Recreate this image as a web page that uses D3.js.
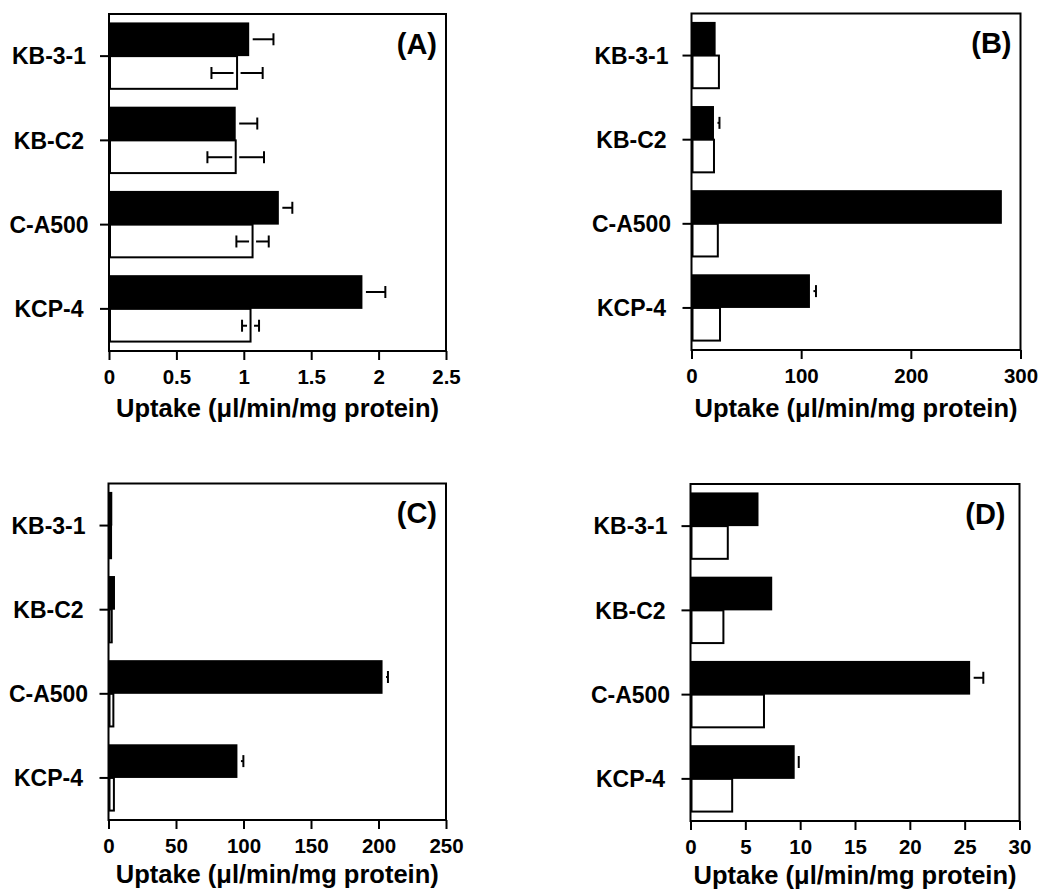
<!DOCTYPE html>
<html>
<head>
<meta charset="utf-8">
<script src="https://cdn.jsdelivr.net/npm/d3@7"></script>
<style>
    body { margin: 0; background: #fff; }
    text { font-family: "Liberation Sans", Arial, Helvetica, sans-serif; font-weight: bold; fill: #000; }
</style>
</head>
<body>
<div class="figure"></div>
<script>

// cell lines (same in every panel)
const cellLines = ["KB-3-1", "KB-C2", "C-A500", "KCP-4"];

// panel A
const blackA = [1.04, 0.94, 1.26, 1.88];
const blackErrA = [0.18, 0.16, 0.10, 0.17];
const whiteA = [0.95, 0.94, 1.065, 1.05];
const whiteErrA = [0.19, 0.21, 0.12, 0.063];

// panel B
const blackB = [22, 20.5, 283, 108];
const blackErrB = [0, 5, 0, 5.5];
const whiteB = [25, 20.5, 24, 26];
const whiteErrB = [0, 0, 0, 0];

// panel C
const blackC = [2.8, 4.8, 203, 95.5];
const blackErrC = [0, 0, 4, 4.4];
const whiteC = [1.9, 2.4, 3.6, 4.0];
const whiteErrC = [0, 0, 0, 0];

// panel D
const blackD = [6.2, 7.45, 25.5, 9.5];
const blackErrD = [0, 0, 1.2, 0.37];
const whiteD = [3.4, 3.0, 6.7, 3.8];
const whiteErrD = [0, 0, 0, 0];

// x axis domains and tick counts
const domains = {A: [0, 2.5], B: [0, 300], C: [0, 250], D: [0, 30]};
const tickCounts = {A: 6, B: 4, C: 5, D: 6};

const axisTitle = "Uptake (\u03bcl/min/mg protein)";


class UptakeChart {

    constructor(svg, panel) {
        this.svg = svg;
        this.panel = panel;
        this.displayData = [];

        this.initVis();
    }

    initVis() {
        let vis = this;
        let p = vis.panel;

        vis.g = vis.svg.append("g");

        vis.x = d3.scaleLinear()
            .domain(domains[p.id])
            .range([p.x0, p.x1]);

        vis.y = d3.scaleBand()
            .domain(cellLines)
            .range([p.yTop, p.yBottom])
            .paddingInner(0.2)
            .paddingOuter(0.1);

        vis.wrangleData();
    }

    wrangleData() {
        let vis = this;
        let p = vis.panel;

        vis.displayData = cellLines.map(function (c, i) {
            return {
                cell: c,
                black: p.black[i],
                blackErr: p.blackErr[i],
                white: p.white[i],
                whiteErr: p.whiteErr[i]
            };
        });

        vis.updateVis();
    }

    updateVis() {
        let vis = this;
        let p = vis.panel;
        let half = vis.y.bandwidth() / 2;
        let gap = 3.5;   // little space between bar end and error line
        let cap = 6;

        // black bars (top half of each band)
        vis.g.selectAll(".bar-black")
            .data(vis.displayData)
            .enter()
            .append("rect")
            .attr("class", "bar-black")
            .attr("x", vis.x(0))
            .attr("y", d => vis.y(d.cell))
            .attr("width", d => vis.x(d.black) - vis.x(0))
            .attr("height", half)
            .style("fill", "#000");

        // white bars (bottom half)
        vis.g.selectAll(".bar-white")
            .data(vis.displayData)
            .enter()
            .append("rect")
            .attr("class", "bar-white")
            .attr("x", vis.x(0) + 1)
            .attr("y", d => vis.y(d.cell) + half)
            .attr("width", d => vis.x(d.white) - vis.x(0) - 1)
            .attr("height", half - 1)
            .style("fill", "#fff")
            .style("stroke", "#000")
            .style("stroke-width", 2);

        // error bars
        let errs = [];
        vis.displayData.forEach(function (d) {
            let yb = vis.y(d.cell) + half / 2;
            let yw = vis.y(d.cell) + half * 1.5;
            if (d.blackErr > 0) {
                errs.push({from: vis.x(d.black) + gap, to: vis.x(d.black + d.blackErr), y: yb});
            }
            if (d.whiteErr > 0) {
                errs.push({from: vis.x(d.white) + gap, to: vis.x(d.white + d.whiteErr), y: yw});
                errs.push({from: vis.x(d.white) - gap, to: vis.x(d.white - d.whiteErr), y: yw});
            }
        });

        let eb = vis.g.selectAll(".err")
            .data(errs)
            .enter()
            .append("g")
            .attr("class", "err")
            .style("stroke", "#000")
            .style("stroke-width", 2);

        eb.append("line")
            .attr("x1", d => d.from)
            .attr("x2", d => d.to)
            .attr("y1", d => d.y)
            .attr("y2", d => d.y);

        eb.append("line")
            .attr("x1", d => d.to)
            .attr("x2", d => d.to)
            .attr("y1", d => d.y - cap)
            .attr("y2", d => d.y + cap);

        // frame
        vis.g.append("rect")
            .attr("x", p.x0)
            .attr("y", p.yTop)
            .attr("width", p.x1 - p.x0)
            .attr("height", p.yBottom - p.yTop)
            .style("fill", "none")
            .style("stroke", "#000")
            .style("stroke-width", 2);

        // y axis
        let yAxis = vis.g.append("g")
            .attr("transform", "translate(" + p.x0 + ",0)")
            .call(d3.axisLeft(vis.y).tickSize(9));
        yAxis.select(".domain").remove();
        yAxis.selectAll("line").style("stroke-width", 2);
        yAxis.selectAll("text")
            .attr("x", -60)
            .attr("dy", "0.36em")
            .attr("text-anchor", "middle")
            .style("font-size", "23px");

        // x axis
        let xAxis = vis.g.append("g")
            .attr("transform", "translate(0," + p.yBottom + ")")
            .call(d3.axisBottom(vis.x).ticks(tickCounts[p.id]).tickSize(9).tickFormat(d3.format("")));
        xAxis.select(".domain").remove();
        xAxis.selectAll("line").style("stroke-width", 2);
        xAxis.selectAll("text")
            .attr("y", 33)
            .attr("dy", null)
            .style("font-size", "20.5px");

        // axis title
        vis.g.append("text")
            .attr("x", (p.x0 + p.x1) / 2)
            .attr("y", p.yBottom + p.titleOffset)
            .attr("text-anchor", "middle")
            .style("font-size", "25.5px")
            .text(axisTitle);

        // panel letter
        vis.g.append("text")
            .attr("x", p.x1 - p.labelInset)
            .attr("y", p.yTop + 39.5)
            .attr("text-anchor", "end")
            .style("font-size", "29px")
            .text("(" + p.id + ")");
    }
}


let svg = d3.select(".figure").append("svg")
    .attr("width", 1053)
    .attr("height", 889);

let panels = [
    {id: "A", black: blackA, blackErr: blackErrA, white: whiteA, whiteErr: whiteErrA,
        x0: 109, x1: 446, yTop: 14, yBottom: 351, titleOffset: 66, labelInset: 9},
    {id: "B", black: blackB, blackErr: blackErrB, white: whiteB, whiteErr: whiteErrB,
        x0: 691.5, x1: 1020.5, yTop: 13.5, yBottom: 350, titleOffset: 66.5, labelInset: 9},
    {id: "C", black: blackC, blackErr: blackErrC, white: whiteC, whiteErr: whiteErrC,
        x0: 108.5, x1: 446, yTop: 483.5, yBottom: 820, titleOffset: 63, labelInset: 9},
    {id: "D", black: blackD, blackErr: blackErrD, white: whiteD, whiteErr: whiteErrD,
        x0: 690.5, x1: 1019.5, yTop: 484, yBottom: 821, titleOffset: 63, labelInset: 14}
];

panels.forEach(p => new UptakeChart(svg, p));

</script>
</body>
</html>
